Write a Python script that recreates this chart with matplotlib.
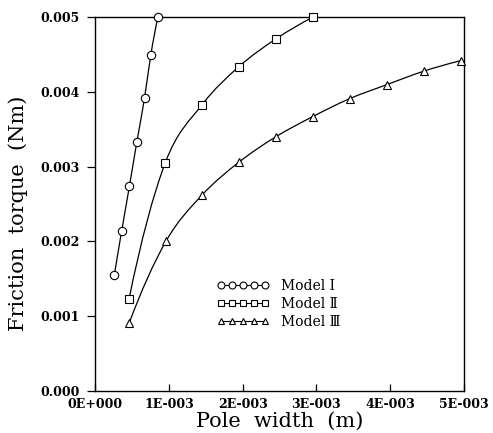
import matplotlib
matplotlib.use('Agg')
import matplotlib.pyplot as plt
from matplotlib.path import Path
from matplotlib.patches import PathPatch
from matplotlib.ticker import FuncFormatter

# pole width (m) and friction torque (Nm)
width_1 = [0.00026, 0.00036, 0.000465, 0.000565, 0.00067, 0.000755, 0.00085]
torque_1 = [0.00155, 0.00214, 0.00274, 0.00333, 0.00392, 0.00450, 0.00500]

width_2 = [0.00046, 0.00095, 0.00145, 0.00195, 0.00245, 0.00295]
torque_2 = [0.00123, 0.00305, 0.00383, 0.00434, 0.00471, 0.00500]

width_3 = [0.00046, 0.00096, 0.00145, 0.00195, 0.00245, 0.00295,
           0.00345, 0.00396, 0.00446, 0.00496]
torque_3 = [0.00090, 0.00200, 0.00262, 0.00306, 0.00340, 0.00367,
            0.00391, 0.00410, 0.00428, 0.00442]

labels = ['Model I', 'Model \u2161', 'Model \u2162']
markers = ['o', 's', '^']

x_ticks = [0, 0.001, 0.002, 0.003, 0.004, 0.005]
x_tick_labels = ['0E+000', '1E-003', '2E-003', '3E-003', '4E-003', '5E-003']
y_ticks = [0, 0.001, 0.002, 0.003, 0.004, 0.005]

FONT = ['DejaVu Serif', 'Noto Sans CJK SC']


def smooth_path(xs, ys):
    """Smooth bezier curve through the data points (parabolic ends)."""
    pts = list(zip(xs, ys))
    n = len(pts)
    tang = []
    for i in range(n):
        if 0 < i < n - 1:
            tang.append(((pts[i + 1][0] - pts[i - 1][0]) / 2,
                         (pts[i + 1][1] - pts[i - 1][1]) / 2))
        else:
            tang.append(None)
    if n > 2:
        tang[0] = (2 * (pts[1][0] - pts[0][0]) - tang[1][0],
                   2 * (pts[1][1] - pts[0][1]) - tang[1][1])
        tang[-1] = (2 * (pts[-1][0] - pts[-2][0]) - tang[-2][0],
                    2 * (pts[-1][1] - pts[-2][1]) - tang[-2][1])
    verts = [pts[0]]
    codes = [Path.MOVETO]
    for i in range(n - 1):
        p1, p2 = pts[i], pts[i + 1]
        m1, m2 = tang[i], tang[i + 1]
        verts += [(p1[0] + m1[0] / 3, p1[1] + m1[1] / 3),
                  (p2[0] - m2[0] / 3, p2[1] - m2[1] / 3), p2]
        codes += [Path.CURVE4] * 3
    return Path(verts, codes)


fig = plt.figure(figsize=(4.93, 4.33), dpi=100)
ax = fig.add_axes([0.193, 0.098, 0.748, 0.862])

series = [(width_1, torque_1), (width_2, torque_2), (width_3, torque_3)]
for (xs, ys), m, lab in zip(series, markers, labels):
    ax.add_patch(PathPatch(smooth_path(xs, ys), fill=False, lw=0.9,
                           edgecolor='black', transform=ax.transData,
                           clip_on=False))
    ax.plot(xs, ys, linestyle='none', marker=m, markersize=6,
            markerfacecolor='white', markeredgecolor='black',
            markeredgewidth=0.8, clip_on=False, zorder=3)
    # legend handle: line with five markers
    ax.plot([], [], '-', color='black', lw=0.8, marker=m, markersize=5,
            markerfacecolor='white', markeredgecolor='black',
            markeredgewidth=0.8, label=lab)

ax.set_xlim(0, 0.005)
ax.set_ylim(0, 0.005)
ax.set_xticks(x_ticks)
ax.set_xticklabels(x_tick_labels)
ax.set_yticks(y_ticks)
ax.yaxis.set_major_formatter(FuncFormatter(lambda v, p: f'{v:.3f}'))

ax.tick_params(axis='x', direction='in', length=5, width=0.9, pad=5)
ax.tick_params(axis='y', direction='out', length=5.5, width=0.9, pad=5.5)
for lab in ax.get_xticklabels() + ax.get_yticklabels():
    lab.set_fontfamily(FONT)
    lab.set_fontweight('bold')
    lab.set_fontsize(9)

for s in ax.spines.values():
    s.set_linewidth(1.0)

ax.set_xlabel('Pole  width  (m)', fontfamily=FONT, fontsize=15)
ax.set_ylabel('Friction  torque  (Nm)', fontfamily=FONT, fontsize=15)
ax.xaxis.set_label_coords(0.5, -0.058)
ax.yaxis.set_label_coords(-0.182, 0.476)

leg = ax.legend(loc='upper left', bbox_to_anchor=(0.33, 0.298),
                frameon=False, numpoints=5, handlelength=3.8,
                handletextpad=0.8, labelspacing=0.28, borderpad=0,
                borderaxespad=0, prop={'family': FONT, 'size': 10})

fig.savefig('out.png', dpi=100)
plt.close(fig)
